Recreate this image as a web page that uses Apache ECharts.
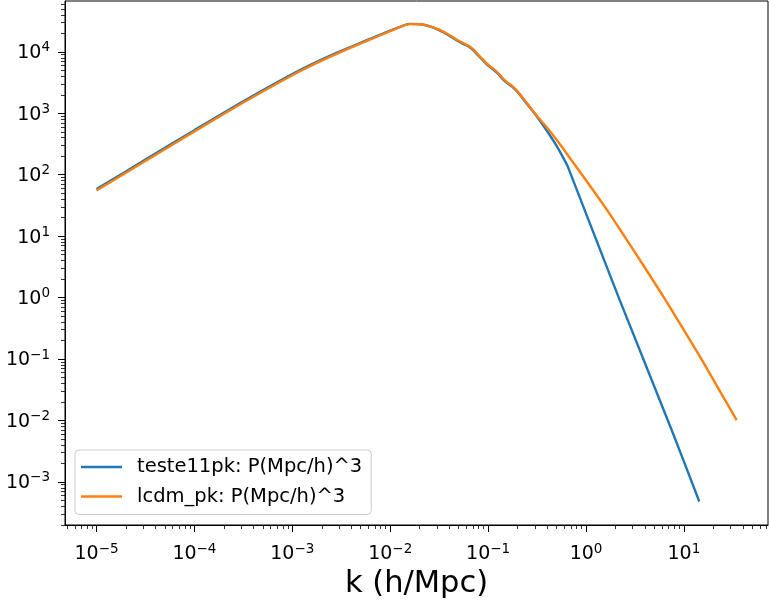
<!DOCTYPE html>
<html><head><meta charset="utf-8">
<script src="https://cdn.jsdelivr.net/npm/echarts@6/dist/echarts.min.js"></script>
<style>html,body{margin:0;padding:0;background:#fff}#c{width:769px;height:604px}</style>
</head><body><div id="c"></div>
<script>
// ---- data ----
const seriesNames = ['teste11pk: P(Mpc/h)^3', 'lcdm_pk: P(Mpc/h)^3'];

const kLcdm = [1e-5, 3.16e-5, 1e-4, 3.16e-4, 1e-3, 1.78e-3, 3.16e-3, 5.62e-3, 0.01, 0.0126, 0.0158, 0.02,
  0.0251, 0.0316, 0.0398, 0.0501, 0.0562, 0.0631, 0.0708, 0.0794, 0.0891, 0.1, 0.112, 0.126, 0.141,
  0.158, 0.178, 0.2, 0.251, 0.316, 0.398, 0.501, 0.631, 0.794, 1.0, 1.585, 2.51, 3.98, 6.31, 10, 15.85, 25.1, 34.6];
const pLcdm = [55.3, 167, 505, 1496, 4170, 6610, 10000, 14790, 21800, 25300, 28300, 28100,
  26300, 23000, 19050, 15140, 13800, 12590, 10960, 8910, 7410, 6170, 5370, 4570, 3720,
  3160, 2750, 2290, 1440, 900, 589, 372, 224, 135, 81.3, 28.8, 9.55, 3.09, 0.977, 0.295, 0.0871, 0.0245, 0.01016];

const kTeste = [1e-5, 3.16e-5, 1e-4, 3.16e-4, 1e-3, 1.78e-3, 3.16e-3, 5.62e-3, 0.01, 0.0126, 0.0158, 0.02,
  0.0251, 0.0316, 0.0398, 0.0501, 0.0562, 0.0631, 0.0708, 0.0794, 0.0891, 0.1, 0.112, 0.126, 0.141,
  0.158, 0.178, 0.2, 0.251, 0.316, 0.398, 0.501, 0.631, 0.655, 2.14, 7.5, 14.35];
const pTeste = [58.5, 176, 531, 1570, 4360, 6880, 10350, 15230, 22200, 25600, 28500, 28200,
  26100, 22600, 18500, 14700, 13400, 12200, 10600, 8640, 7190, 5980, 5210, 4430, 3610,
  3070, 2670, 2220, 1400, 880, 520, 295, 151, 133, 1.035, 0.0070, 4.79e-4];

const xTickValues = [1e-5, 1e-4, 1e-3, 1e-2, 1e-1, 1, 10];
const yTickValues = [1e-3, 1e-2, 1e-1, 1, 10, 100, 1e3, 1e4];
const xLabelText = 'k (h/Mpc)';

// ---- axis limits (log10) ----
const xLo = -5.322, xHi = 1.859, yLo = -3.702, yHi = 4.828;

function minorTicks(lo, hi) {
  const out = [];
  for (let e = Math.floor(lo); e <= Math.ceil(hi); e++) {
    for (let m = 2; m <= 9; m++) {
      const v = m * Math.pow(10, e);
      const lv = Math.log10(v);
      if (lv > lo && lv < hi) out.push(v);
    }
  }
  return out;
}
function fmt(v) {
  const e = Math.round(Math.log10(v));
  const s = e < 0 ? '\u2212' + (-e) : String(e);
  return '{b|10}{s|' + s + '}';
}
const rich = {
  b: { fontSize: 19, fontFamily: 'DejaVu Sans', color: '#000', lineHeight: 22, verticalAlign: 'bottom' },
  s: { fontSize: 13.5, fontFamily: 'DejaVu Sans', color: '#000', lineHeight: 12, verticalAlign: 'top' }
};
const font = 'DejaVu Sans';

const chart = echarts.init(document.getElementById('c'), null, { renderer: 'canvas' });
const baseX = { type: 'log', logBase: 10, min: Math.pow(10, xLo), max: Math.pow(10, xHi), gridIndex: 0, position: 'bottom', splitLine: { show: false } };
const baseY = { type: 'log', logBase: 10, min: Math.pow(10, yLo), max: Math.pow(10, yHi), gridIndex: 0, position: 'left', splitLine: { show: false } };

chart.setOption({
  animation: false,
  backgroundColor: '#fff',
  grid: { left: 65, top: 1, width: 703, height: 524, show: true, borderColor: '#000', borderWidth: 1, backgroundColor: '#fff', containLabel: false, outerBoundsMode: 'none' },
  xAxis: [
    Object.assign({}, baseX, {
      name: xLabelText, nameLocation: 'middle', nameGap: 44,
      nameTextStyle: { fontSize: 30.5, fontFamily: font, color: '#000' },
      axisLine: { show: true, lineStyle: { color: '#000', width: 1 } },
      axisTick: { show: true, inside: false, length: 7, customValues: xTickValues, lineStyle: { color: '#000', width: 1 } },
      axisLabel: { show: true, margin: 17, customValues: xTickValues, formatter: fmt, rich: rich, showMinLabel: true, showMaxLabel: true, hideOverlap: false },
      minorTick: { show: false }
    }),
    Object.assign({}, baseX, {
      axisLine: { show: false },
      axisTick: { show: true, inside: false, length: 4, customValues: minorTicks(xLo, xHi), lineStyle: { color: '#000', width: 0.8 } },
      axisLabel: { show: false }
    })
  ],
  yAxis: [
    Object.assign({}, baseY, {
      axisLine: { show: true, lineStyle: { color: '#000', width: 1 } },
      axisTick: { show: true, inside: false, length: 7, customValues: yTickValues, lineStyle: { color: '#000', width: 1 } },
      axisLabel: { show: true, margin: 15, customValues: yTickValues, formatter: fmt, rich: rich, showMinLabel: true, showMaxLabel: true, hideOverlap: false }
    }),
    Object.assign({}, baseY, {
      axisLine: { show: false },
      axisTick: { show: true, inside: false, length: 4, customValues: minorTicks(yLo, yHi), lineStyle: { color: '#000', width: 0.8 } },
      axisLabel: { show: false }
    })
  ],
  legend: {
    orient: 'vertical', left: 75, top: 450,
    padding: [7, 9, 8, 6], itemGap: 9.5, itemWidth: 41, itemHeight: 2.6, icon: 'rect',
    backgroundColor: 'rgba(255,255,255,0.8)', borderColor: '#cccccc', borderWidth: 1, borderRadius: 4,
    textStyle: { fontSize: 19.5, fontFamily: font, color: '#000', lineHeight: 20, padding: [0, 0, 0, 10] },
    data: seriesNames
  },
  series: [
    { name: seriesNames[0], type: 'line', xAxisIndex: 0, yAxisIndex: 0, symbol: 'none', smooth: 0.25,
      color: '#1f77b4', itemStyle: { color: '#1f77b4' }, lineStyle: { color: '#1f77b4', width: 2.4 },
      data: kTeste.map((k, i) => [k, pTeste[i]]) },
    { name: seriesNames[1], type: 'line', xAxisIndex: 0, yAxisIndex: 0, symbol: 'none', smooth: 0.3,
      color: '#ff7f0e', itemStyle: { color: '#ff7f0e' }, lineStyle: { color: '#ff7f0e', width: 2.4 },
      data: kLcdm.map((k, i) => [k, pLcdm[i]]) }
  ]
});
</script></body></html>
